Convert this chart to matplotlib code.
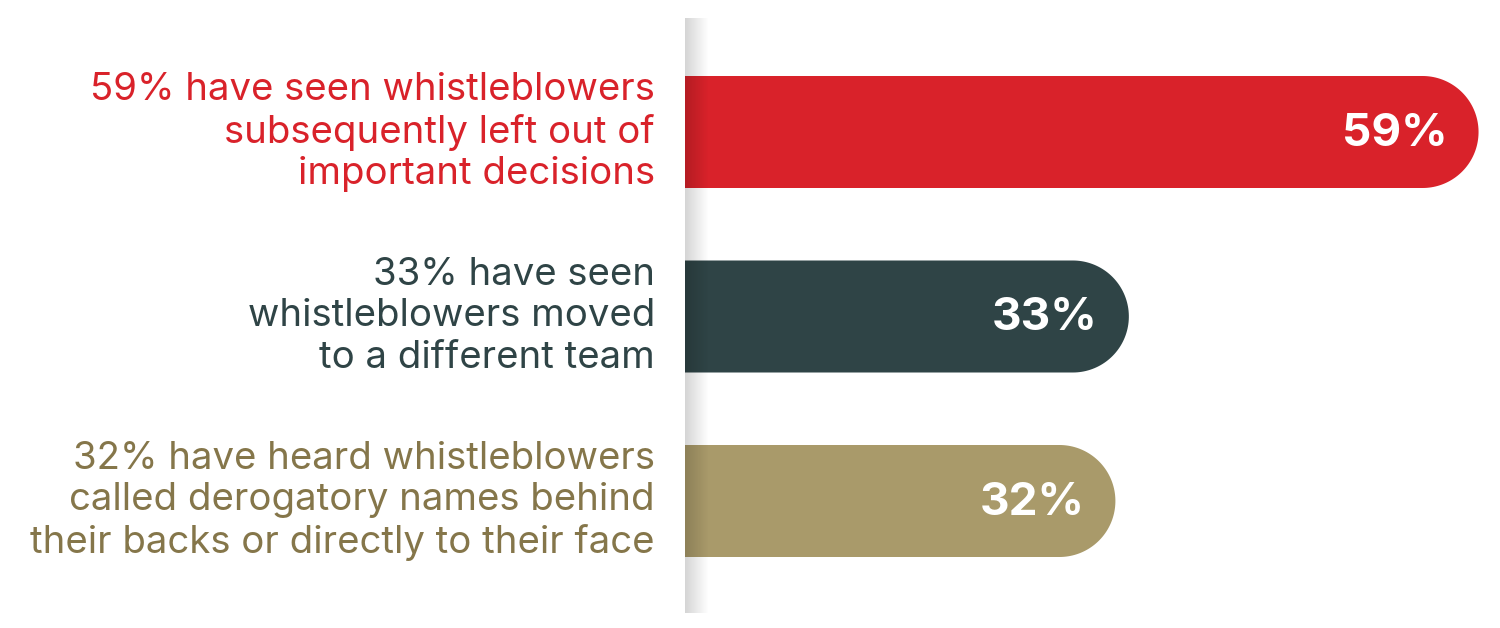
import numpy as np
import matplotlib
matplotlib.use("Agg")
import matplotlib.pyplot as plt
from matplotlib.patches import Polygon

labels = [
    "59% have seen whistleblowers\nsubsequently left out of\nimportant decisions",
    "33% have seen\nwhistleblowers moved\nto a different team",
    "32% have heard whistleblowers\ncalled derogatory names behind\ntheir backs or directly to their face",
]
values = [59, 33, 32]
value_labels = ["59%", "33%", "32%"]
bar_colors = ["#D9222A", "#2F4446", "#A99A6A"]
text_colors = ["#D9222A", "#2F4446", "#85764A"]

W, H = 1500, 628
fig = plt.figure(figsize=(15, 6.28), dpi=100)
fig.patch.set_facecolor("white")

px_x = 13.45         # pixels per percent
px_y = 184.5         # pixels per category step
x0_px = 685
first_px = 132

ax = fig.add_axes([x0_px / W, 0, (W - x0_px) / W, 1])
ax.set_xlim(0, (W - x0_px) / px_x)
ax.set_ylim((H - first_px) / px_y, -first_px / px_y)
ax.axis("off")

bar_h_px = 112
ry = bar_h_px / 2 / px_y
rx = bar_h_px / 2 / px_x
t = np.linspace(-np.pi / 2, np.pi / 2, 80)

font = "Inter"
for i, (v, c) in enumerate(zip(values, bar_colors)):
    cx = v - rx
    pts = [(0, i - ry)]
    pts += [(cx + rx * np.cos(a), i + ry * np.sin(a)) for a in t]
    pts += [(0, i + ry)]
    ax.add_patch(Polygon(pts, closed=True, facecolor=c, edgecolor="none", zorder=2))
    ax.text(v - 31 / px_x, i + 0.01, value_labels[i], ha="right", va="center",
            color="white", fontsize=33, fontweight="bold", family=font, zorder=4)

lab_x = (655 - x0_px) / px_x
for i, (lab, c) in enumerate(zip(labels, text_colors)):
    ax.text(lab_x, i, lab, ha="right", va="center", color=c,
            fontsize=27.6, family=font, linespacing=1.2,
            clip_on=False, zorder=3)

# gray shadow strip on the axis
strip_w = 24 / px_x
y_top = (18 - first_px) / px_y
y_bot = (613 - first_px) / px_y
grad = np.zeros((2, 64, 4))
grad[..., 3] = np.linspace(0.17, 0.0, 64)
ax.imshow(grad, extent=[0, strip_w, y_bot, y_top], aspect="auto",
          interpolation="bilinear", zorder=3)
ax.set_xlim(0, (W - x0_px) / px_x)
ax.set_ylim((H - first_px) / px_y, -first_px / px_y)

fig.savefig("out.png", dpi=100, facecolor="white")
